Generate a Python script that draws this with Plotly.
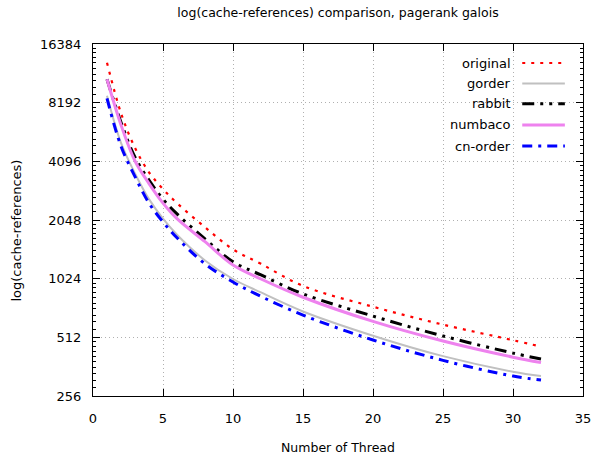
import plotly.graph_objects as go

threads = [1, 2, 3, 4, 5, 6, 8, 10, 12, 15, 20, 25, 30, 32]

original = [13130, 7240, 4800, 3600, 2950, 2500, 1880, 1448, 1220, 940, 735, 595, 495, 459]
gorder   = [8900, 5100, 3550, 2620, 2080, 1720, 1270, 1020, 870, 695, 522, 410, 341, 324]
rabbit   = [10800, 6500, 4300, 3280, 2620, 2200, 1640, 1250, 1070, 855, 658, 520, 425, 396]
numbaco  = [10800, 6300, 4110, 3150, 2500, 2080, 1585, 1203, 1020, 822, 618, 490, 405, 380]
cnorder  = [8610, 4900, 3420, 2500, 2000, 1660, 1220, 985, 830, 666, 496, 390, 324, 309]

series_names = ["original", "gorder", "rabbit", "numbaco", "cn-order"]
series_values = [original, gorder, rabbit, numbaco, cnorder]
colors = ["#ff0000", "#c0c0c0", "#000000", "#ee82ee", "#0000ff"]
dashes = ["3px,6px", "solid", "12px,6px,3px,6px,3px,6px", "solid", "10px,6px,3px,6px"]
widths = [2.2, 2, 3, 3, 3]

yticks = [256, 512, 1024, 2048, 4096, 8192, 16384]
xticks = [0, 5, 10, 15, 20, 25, 30, 35]

FONT = "DejaVu Sans"
W, H = 591, 462

fig = go.Figure()
for name, vals, c, d, w in zip(series_names, series_values, colors, dashes, widths):
    fig.add_trace(go.Scatter(
        x=threads, y=vals, mode="lines", name=name, showlegend=False,
        line=dict(color=c, dash=d, width=w, shape="spline", smoothing=1.0),
    ))

# gnuplot-style legend: right-aligned text with sample line to its right
leg_y = [0.946, 0.888, 0.830, 0.770, 0.710]
for name, c, d, w, yy in zip(series_names, colors, dashes, widths, leg_y):
    fig.add_annotation(x=0.857, y=yy, xref="paper", yref="paper", text=name,
                       showarrow=False, xanchor="right", yanchor="middle",
                       font=dict(family=FONT, size=13, color="#000000"))
    fig.add_shape(type="line", xref="paper", yref="paper", x0=0.876, x1=0.963,
                  y0=yy, y1=yy, line=dict(color=c, dash=d, width=w))

# axis titles placed like gnuplot
fig.add_annotation(x=-0.155, y=0.47, xref="paper", yref="paper", text="log(cache-references)",
                   showarrow=False, textangle=-90, xanchor="center", yanchor="middle",
                   font=dict(family=FONT, size=13, color="#000000"))
fig.add_annotation(x=0.5, y=-0.145, xref="paper", yref="paper", text="Number of Thread",
                   showarrow=False, xanchor="center", yanchor="middle",
                   font=dict(family=FONT, size=12.5, color="#000000"))

minor_vals = []
for base in yticks[:-1]:
    for k in range(1, 10):
        minor_vals.append(base * (1 + k / 10))

fig.update_layout(
    width=W, height=H,
    margin=dict(l=93, r=8, t=44, b=66, autoexpand=False),
    paper_bgcolor="white", plot_bgcolor="white",
    title=dict(text="log(cache-references) comparison, pagerank galois",
               x=338 / W, xanchor="center", y=1 - 13 / H, yanchor="middle",
               font=dict(family=FONT, size=12.5, color="#000000")),
    font=dict(family=FONT, size=13, color="#000000"),
    xaxis=dict(range=[0, 35], tickvals=xticks, ticktext=[str(v) for v in xticks],
               showline=True, linecolor="#000000", linewidth=1, mirror="ticks",
               ticks="inside", ticklen=7, tickcolor="#000000",
               showgrid=True, gridcolor="#b0b0b0", griddash="1px,3px", gridwidth=1,
               zeroline=False, automargin=False, ticklabelstandoff=10,
               ticklabeloverflow="allow",
               tickfont=dict(family=FONT, size=13)),
    yaxis=dict(type="log", tickvals=yticks, ticktext=[str(v) for v in yticks],
               showline=True, linecolor="#000000", linewidth=1, mirror="ticks",
               ticks="inside", ticklen=7, tickcolor="#000000",
               showgrid=True, gridcolor="#b0b0b0", griddash="1px,3px", gridwidth=1,
               zeroline=False, automargin=False, ticklabelstandoff=8,
               minor=dict(tickvals=minor_vals, ticks="inside", ticklen=3, tickcolor="#000000", showgrid=False),
               tickfont=dict(family=FONT, size=13)),
)
fig.update_yaxes(range=[8 * 0.30103, 14 * 0.30103])

fig.write_html("out.html", config={"displayModeBar": False},
               post_script="document.body.style.margin='0';document.body.style.overflow='hidden';")
